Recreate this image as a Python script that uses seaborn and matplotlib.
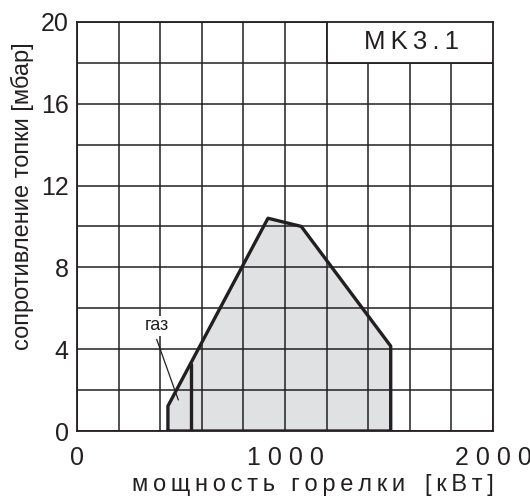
import numpy as np
import pandas as pd
import matplotlib
matplotlib.use("Agg")
import matplotlib.pyplot as plt
import seaborn as sns
from matplotlib.patches import Rectangle

# outline of the working field (burner power kW, furnace resistance mbar)
power_kw = [437, 437, 918, 1078, 1508, 1508, 437]
resist_mbar = [0.0, 1.22, 10.4, 10.0, 4.15, 0.0, 0.0]

# gas limit line inside the field
gas_x = [546, 546]
gas_y = [0.0, 3.3]

x_ticks = [0, 1000, 2000]
x_labels = ["0", "1 0 0 0", "2 0 0 0"]
y_ticks = [0, 4, 8, 12, 16, 20]

INK = "#231f20"


def spaced(s):
    # letter-spaced look of the original drawing
    return "\u2009".join(s)


sns.set_style("white")
plt.rcParams['font.family'] = ['Liberation Sans', 'DejaVu Sans']

fig = plt.figure(figsize=(5.3, 4.96), dpi=100)
ax = fig.add_axes([0.1453, 0.131, 0.785, 0.825])

df = pd.DataFrame({"x": power_kw, "y": resist_mbar})
ax.fill(df["x"], df["y"], color="#e0e1e3", zorder=1, lw=0)
sns.lineplot(data=df, x="x", y="y", sort=False, estimator=None, color=INK,
             lw=2.4, zorder=4, ax=ax)
sns.lineplot(x=gas_x, y=gas_y, sort=False, estimator=None, color=INK,
             lw=2.4, zorder=4, ax=ax)

ax.set_xlim(0, 2000)
ax.set_ylim(0, 20)
ax.set_xticks(x_ticks)
ax.set_xticklabels(x_labels)
ax.set_xticks(np.arange(0, 2001, 200), minor=True)
ax.set_yticks(y_ticks)
ax.set_yticks(np.arange(0, 21, 2), minor=True)
ax.set_axisbelow(False)
ax.grid(True, which="both", color=INK, lw=1.1, zorder=2)
ax.tick_params(which="both", length=0, labelsize=18, colors=INK)
ax.tick_params(axis="x", pad=11)
ax.tick_params(axis="y", pad=6)
for s in ax.spines.values():
    s.set_color(INK)
    s.set_linewidth(1.3)

# label box in the top right corner
ax.add_patch(Rectangle((1200, 18), 800, 2, facecolor="white", edgecolor=INK,
                       lw=1.3, zorder=3))
ax.text(1610, 19, spaced("MK3.1"), ha="center", va="center", fontsize=18.5,
        color=INK, zorder=5)

# gas annotation
ax.text(385, 5.15, "газ", ha="center", va="center", fontsize=13, color=INK,
        zorder=5, bbox=dict(facecolor="white", edgecolor="none", pad=1))
ax.plot([383, 487], [4.48, 1.52], color=INK, lw=0.9, zorder=5)

ax.set_xlabel(spaced("мощность горелки") + "   " + spaced("[кВт]"),
              fontsize=17, color=INK, labelpad=3)
ax.set_ylabel("сопротивление топки [мбар]", fontsize=17, color=INK, labelpad=5)
ax.xaxis.label.set_x(0.567)
ax.yaxis.label.set_y(0.575)

fig.savefig("out.png", dpi=100)
